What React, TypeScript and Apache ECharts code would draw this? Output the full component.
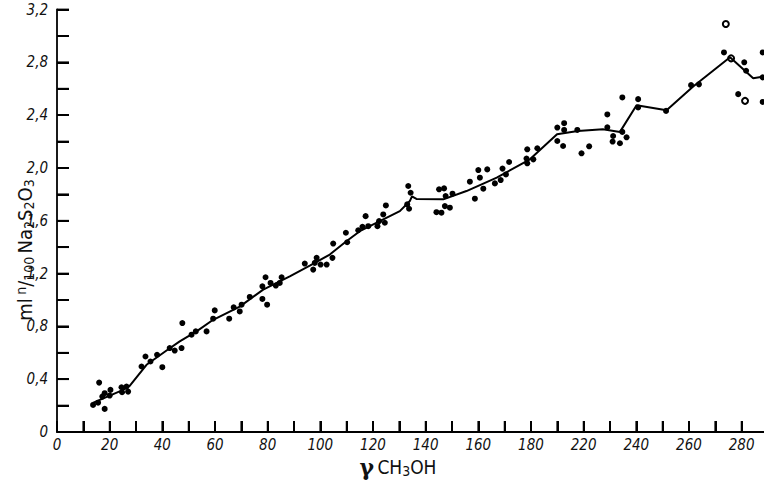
import React, { useEffect, useRef } from "react";
import * as echarts from "echarts";

const xTickLabels = ["0", "20", "40", "60", "80", "100", "120", "140", "160", "180", "220", "240", "260", "280"];
const yTickLabels = ["0", "0,4", "0,8", "1,2", "1,6", "2,0", "2,4", "2,8", "3,2"];

// positions of the inward tick marks (axis units)
const xTickMarks = [10, 20, 30, 40, 50, 60, 70, 80, 90, 100, 110, 120, 130, 140, 150, 160, 170, 180, 190, 200, 210, 220, 230, 240, 250, 260];
const yTickMarks = [0.2, 0.4, 0.6, 0.8, 1.0, 1.2, 1.4, 1.6, 1.8, 2.0, 2.2, 2.4, 2.6, 2.8, 3.0, 3.2];

// hand-drawn trend line
const curveX = [13.6, 20.7, 25.1, 27.6, 34.0, 41.6, 46.6, 53.0, 59.3, 69.4, 78.3, 88.4, 96.0, 103.6, 109.9, 115.0, 122.6, 130.2, 134.0, 134.8, 136.5, 146.7, 155.5, 167.0, 179.6, 189.9, 197.8, 207.3, 213.8, 220.1, 231.5, 241.6, 255.6, 264.4, 268.5];
const curveY = [0.22, 0.281, 0.319, 0.349, 0.509, 0.617, 0.686, 0.762, 0.850, 0.95, 1.078, 1.179, 1.260, 1.344, 1.445, 1.521, 1.597, 1.673, 1.749, 1.785, 1.765, 1.762, 1.825, 1.926, 2.065, 2.255, 2.280, 2.293, 2.273, 2.475, 2.437, 2.617, 2.838, 2.680, 2.693];

// measured points (filled)
const pointX = [
  13.7, 15.6, 16.0, 17.2, 18.1, 18.1, 20.3, 20.0, 24.5, 24.7, 26.4, 27.0, 32.1, 33.6, 35.5, 38.0, 40.0, 42.8, 44.7, 47.3,
  47.6, 51.1, 52.7, 56.8, 59.3, 59.9, 65.4, 67.1, 69.4, 70.1, 73.2, 78.0, 78.0, 79.2, 79.8, 81.1, 83.1, 84.6, 85.3,
  94.1, 97.3, 98.6, 97.9, 100.1, 102.4, 104.6, 104.9, 109.7, 110.2, 114.4, 116.0, 117.2, 118.2, 121.7, 122.3, 123.9, 124.5, 124.9,
  133.4, 134.3, 133.0, 133.7, 144.1, 146.0, 145.1, 147.0, 147.6, 147.3, 149.2, 150.2, 156.8, 158.7, 160.0, 160.6, 161.9, 163.4,
  166.3, 168.5, 169.2, 170.5, 171.7, 178.3, 178.6, 178.6, 182.4, 180.9, 190.0, 190.0, 192.6, 192.6, 192.2, 197.6, 199.2, 202.1,
  209.0, 209.0, 211.2, 211.0, 213.8, 214.7, 214.7, 216.3, 220.7, 220.7, 231.3, 240.8, 243.8, 253.3, 261.0, 261.7, 258.7,
  268.0, 268.0, 268.0,
];
const pointY = [
  0.205, 0.222, 0.374, 0.268, 0.294, 0.175, 0.319, 0.276, 0.339, 0.301, 0.344, 0.306, 0.496, 0.572, 0.534, 0.585, 0.491, 0.636, 0.617, 0.636,
  0.825, 0.737, 0.762, 0.762, 0.858, 0.921, 0.858, 0.944, 0.913, 0.964, 1.023, 1.008, 1.103, 1.172, 0.964, 1.129, 1.109, 1.129, 1.172,
  1.276, 1.230, 1.319, 1.281, 1.268, 1.268, 1.319, 1.427, 1.509, 1.437, 1.528, 1.554, 1.635, 1.559, 1.559, 1.597, 1.648, 1.585, 1.716,
  1.863, 1.812, 1.724, 1.691, 1.665, 1.661, 1.838, 1.845, 1.787, 1.711, 1.699, 1.805, 1.896, 1.767, 1.984, 1.926, 1.843, 1.989,
  1.883, 1.908, 1.995, 1.951, 2.045, 2.071, 2.035, 2.141, 2.149, 2.065, 2.306, 2.204, 2.339, 2.288, 2.166, 2.288, 2.111, 2.164,
  2.405, 2.308, 2.242, 2.200, 2.187, 2.534, 2.273, 2.232, 2.521, 2.458, 2.432, 2.627, 2.633, 2.875, 2.800, 2.736, 2.559,
  2.875, 2.686, 2.500,
];

// open circles
const hollowX = [254.0, 256.0, 261.3];
const hollowY = [3.09, 2.83, 2.508];

const zip = (xs: number[], ys: number[]) => xs.map((x, i) => [x, ys[i]]);

const labelFont = "'DejaVu Sans Condensed', Roboto, sans-serif";

const X_MAX = 268.5;
const Y_MAX = 3.2;

const xLabel = (v: number) => {
  const i = Math.round(v / 10);
  return i % 2 === 0 ? xTickLabels[i / 2] ?? "" : "";
};
const yLabel = (v: number) => {
  const i = Math.round(v / 0.2);
  return i % 2 === 0 ? yTickLabels[i / 2] ?? "" : "";
};

export default function App() {
  const ref = useRef<HTMLDivElement>(null);
  useEffect(() => {
    if (!ref.current) return;
    const chart = echarts.init(ref.current, null, { renderer: "svg" });
    chart.setOption({
      animation: false,
      backgroundColor: "#fff",
      grid: { left: 57, right: 0, top: 9.5, bottom: 53 },
      xAxis: {
        type: "value",
        min: 0,
        max: X_MAX,
        interval: 10,
        axisLine: { show: true, lineStyle: { color: "#000", width: 1.8 } },
        axisTick: { show: true, inside: true, length: 11, lineStyle: { color: "#000", width: 2 } },
        splitLine: { show: false },
        axisLabel: {
          showMaxLabel: false,
          hideOverlap: false,
          interval: 0,
          margin: 5,
          color: "#111",
          fontSize: 15,
          fontStyle: "italic",
          fontFamily: labelFont,
          formatter: xLabel,
        },
      },
      yAxis: {
        type: "value",
        min: 0,
        max: Y_MAX,
        interval: 0.2,
        axisLine: { show: true, lineStyle: { color: "#000", width: 1.8 } },
        axisTick: { show: true, inside: true, length: 12, lineStyle: { color: "#000", width: 2 } },
        splitLine: { show: false },
        axisLabel: {
          hideOverlap: false,
          interval: 0,
          margin: 9,
          color: "#111",
          fontSize: 15,
          fontStyle: "italic",
          fontFamily: labelFont,
          padding: [0, 0, 10, 0],
          formatter: yLabel,
        },
      },
      graphic: [
        {
          type: "text",
          x: 25,
          y: 250,
          rotation: Math.PI / 2,
          style: {
            text: "{m|ml} {sup|n}{m|/}{sub|100} {m|Na}{sub|2}{m|S}{sub|2}{m|O}{sub|3}",
            align: "center",
            verticalAlign: "middle",
            rich: {
              m: { fontSize: 20, lineHeight: 22, fontFamily: labelFont, fill: "#111" },
              sub: { fontSize: 14, lineHeight: 14, verticalAlign: "bottom", fontFamily: labelFont, fill: "#111" },
              sup: { fontSize: 14, lineHeight: 14, verticalAlign: "top", fontFamily: labelFont, fill: "#111" },
            },
          },
        },
        {
          type: "text",
          x: 398,
          y: 467,
          style: {
            text: "{g|γ} {m|CH}{sub|3}{m|OH}",
            align: "center",
            verticalAlign: "middle",
            rich: {
              g: { fontSize: 22, lineHeight: 22, fontFamily: "'DejaVu Serif', serif", fontWeight: "bold", fill: "#111" },
              m: { fontSize: 19, lineHeight: 22, fontFamily: labelFont, fill: "#111" },
              sub: { fontSize: 14, lineHeight: 14, verticalAlign: "bottom", fontFamily: labelFont, fill: "#111" },
            },
          },
        },
      ],
      series: [
        {
          // inward tick marks on the x axis, drawn as thin filled bars
          type: "custom",
          clip: false,
          data: xTickMarks.map((v) => [v, 0]),
          renderItem: (_p: any, api: any) => {
            const pt = api.coord([api.value(0), 0]);
            return {
              type: "rect",
              shape: { x: pt[0] - 0.9, y: pt[1] - 11, width: 1.8, height: 11 },
              style: { fill: "#000" },
            };
          },
        },
        {
          // inward tick marks on the y axis
          type: "custom",
          clip: false,
          data: yTickMarks.map((v) => [0, v]),
          renderItem: (_p: any, api: any) => {
            const pt = api.coord([0, api.value(1)]);
            return {
              type: "rect",
              shape: { x: pt[0], y: pt[1] - 0.9, width: 12, height: 1.8 },
              style: { fill: "#000" },
            };
          },
        },
        {
          type: "line",
          data: zip(curveX, curveY),
          showSymbol: false,
          smooth: false,
          lineStyle: { color: "#000", width: 2 },
        },
        {
          type: "scatter",
          data: zip(pointX, pointY),
          symbol: "circle",
          symbolSize: 6,
          itemStyle: { color: "#000", opacity: 1 },
        },
        {
          type: "scatter",
          data: zip(hollowX, hollowY),
          symbol: "circle",
          symbolSize: 6,
          itemStyle: { color: "#fff", borderColor: "#000", borderWidth: 2, opacity: 1 },
        },
      ],
    });
    return () => chart.dispose();
  }, []);
  return <div ref={ref} style={{ position: "fixed", left: 0, top: 0, width: 764, height: 485 }} />;
}
